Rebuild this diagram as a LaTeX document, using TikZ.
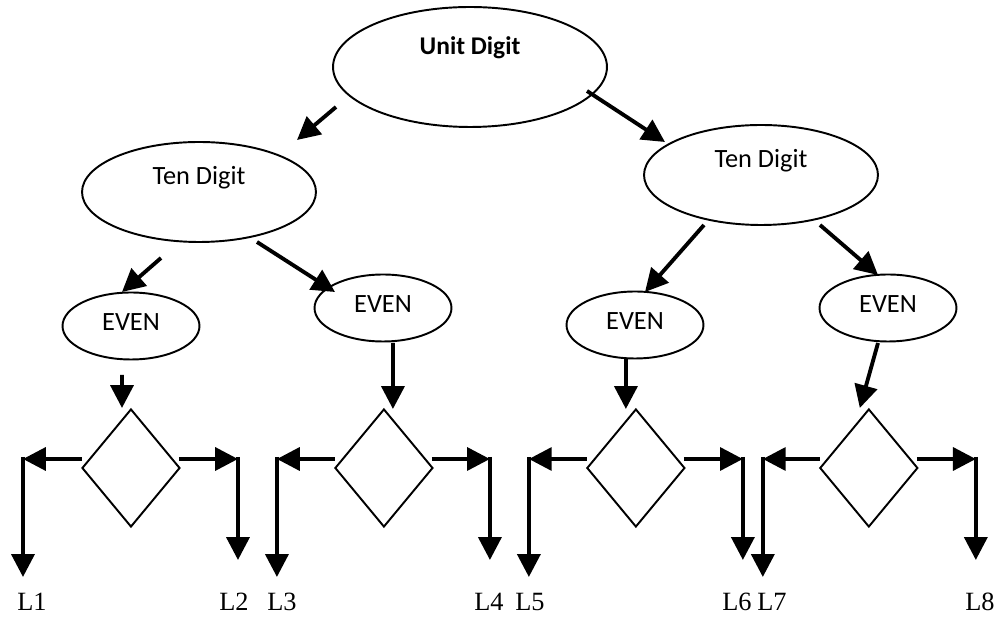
\documentclass[tikz,border=0pt]{standalone}
\usepackage{fontspec}
\setmainfont{Liberation Serif}
\newfontfamily\calfont{Carlito}
\usetikzlibrary{shapes.geometric,arrows.meta,calc}

\tikzset{
  ovalbox/.style={ellipse, draw, line width=1.1pt, inner sep=0pt},
  ovaltext/.style={font=\calfont\fontsize{15}{17}\selectfont, inner sep=0pt},
  unittext/.style={font=\calfont\bfseries\fontsize{14.5}{17}\selectfont, inner sep=0pt},
  choicebox/.style={diamond, draw, line width=1.1pt, inner sep=0pt,
                    minimum width=1.96cm, minimum height=2.36cm},
  flowarrow/.style={line width=2.2pt, -{Triangle[length=13pt,width=13pt]}},
  leaftext/.style={font=\fontsize{15}{17}\selectfont, anchor=base, inner sep=0pt}
}

\begin{document}
\begin{tikzpicture}[x=0.02cm, y=-0.02cm]
   \useasboundingbox (0,0) rectangle (998,617);
   % top of the tree
   \node[ovalbox, minimum width=5.48cm, minimum height=2.4cm,
         label={[unittext, yshift=0.38cm]center:Unit Digit}] (unit) at (470,67) {};
   \node[ovalbox, minimum width=4.68cm, minimum height=2cm,
         label={[ovaltext, yshift=0.28cm]center:Ten Digit}] (tenl) at (199,192) {};
   \node[ovalbox, minimum width=4.68cm, minimum height=2cm,
         label={[ovaltext, yshift=0.28cm]center:Ten Digit}] (tenr) at (761,175) {};
   \node[ovalbox, minimum width=2.74cm, minimum height=1.34cm,
         label={[ovaltext, yshift=0.07cm]center:EVEN}] (even1) at (131,326) {};
   \node[ovalbox, minimum width=2.74cm, minimum height=1.34cm,
         label={[ovaltext, yshift=0.07cm]center:EVEN}] (even2) at (383,308) {};
   \node[ovalbox, minimum width=2.74cm, minimum height=1.34cm,
         label={[ovaltext, yshift=0.07cm]center:EVEN}] (even3) at (635,325) {};
   \node[ovalbox, minimum width=2.74cm, minimum height=1.34cm,
         label={[ovaltext, yshift=0.07cm]center:EVEN}] (even4) at (888,308) {};

   \draw[flowarrow] ($(unit)+(-134,40)$) -- ($(tenl)+(98,-52)$);
   \draw[flowarrow] ($(unit)+(117,24)$) -- ($(tenr)+(-96,-33)$);
   \draw[flowarrow] ($(tenl)+(-38,66)$) -- ($(even1)+(-9,-34)$);
   \draw[flowarrow] ($(tenl)+(58,50)$) -- ($(even2)+(-48,-16)$);
   \draw[flowarrow] ($(tenr)+(-57,50)$) -- ($(even3)+(10,-33)$);
   \draw[flowarrow] ($(tenr)+(59,50)$) -- ($(even4)+(-10,-33)$);

   % the four choices
   \begin{scope}[xshift=2.62cm]
      \node[choicebox] (d1) at (0,468) {};
      \coordinate (d1l) at (-108,459);
      \coordinate (d1r) at (107,459);
      \coordinate (d1le) at (-108,577);
      \coordinate (d1re) at (107,560);
      \draw[flowarrow] ($(d1.west)+(1,-9)$) -- (d1l);
      \draw[flowarrow] ($(d1.east)+(-2,-9)$) -- (d1r);
      \draw[flowarrow] ($(d1l)+(0,-2)$) -- (d1le);
      \draw[flowarrow] ($(d1r)+(0,-2)$) -- (d1re);
   \end{scope}
   \begin{scope}[xshift=7.68cm]
      \node[choicebox] (d2) at (0,468) {};
      \coordinate (d2l) at (-107,459);
      \coordinate (d2r) at (106,459);
      \coordinate (d2le) at (-107,577);
      \coordinate (d2re) at (106,560);
      \draw[flowarrow] ($(d2.west)+(1,-9)$) -- (d2l);
      \draw[flowarrow] ($(d2.east)+(-2,-9)$) -- (d2r);
      \draw[flowarrow] ($(d2l)+(0,-2)$) -- (d2le);
      \draw[flowarrow] ($(d2r)+(0,-2)$) -- (d2re);
   \end{scope}
   \begin{scope}[xshift=12.72cm]
      \node[choicebox] (d3) at (0,468) {};
      \coordinate (d3l) at (-107,459);
      \coordinate (d3r) at (107,459);
      \coordinate (d3le) at (-107,577);
      \coordinate (d3re) at (107,560);
      \draw[flowarrow] ($(d3.west)+(1,-9)$) -- (d3l);
      \draw[flowarrow] ($(d3.east)+(-2,-9)$) -- (d3r);
      \draw[flowarrow] ($(d3l)+(0,-2)$) -- (d3le);
      \draw[flowarrow] ($(d3r)+(0,-2)$) -- (d3re);
   \end{scope}
   \begin{scope}[xshift=17.38cm]
      \node[choicebox] (d4) at (0,468) {};
      \coordinate (d4l) at (-106,459);
      \coordinate (d4r) at (107,459);
      \coordinate (d4le) at (-106,577);
      \coordinate (d4re) at (107,560);
      \draw[flowarrow] ($(d4.west)+(1,-9)$) -- (d4l);
      \draw[flowarrow] ($(d4.east)+(-2,-9)$) -- (d4r);
      \draw[flowarrow] ($(d4l)+(0,-2)$) -- (d4le);
      \draw[flowarrow] ($(d4r)+(0,-2)$) -- (d4re);
   \end{scope}

   \draw[flowarrow] ($(even1)+(-9,49)$) -- ($(d1)+(-9,-60)$);
   \draw[flowarrow] ($(even2)+(10,35)$) -- ($(d2)+(9,-59)$);
   \draw[flowarrow] ($(even3)+(-9,33)$) -- ($(d3)+(-10,-59)$);
   \draw[flowarrow] ($(even4)+(-10,35)$) -- ($(d4)+(-9,-60)$);

   % leaves
   \node[leaftext] (l1) at (32,611) {L1};
   \node[leaftext] (l2) at (234,611) {L2};
   \node[leaftext] (l3) at (282,611) {L3};
   \node[leaftext] (l4) at (489,611) {L4};
   \node[leaftext] (l5) at (530,611) {L5};
   \node[leaftext] (l6) at (737,611) {L6};
   \node[leaftext] (l7) at (772,611) {L7};
   \node[leaftext] (l8) at (980,611) {L8};
\end{tikzpicture}
\end{document}
